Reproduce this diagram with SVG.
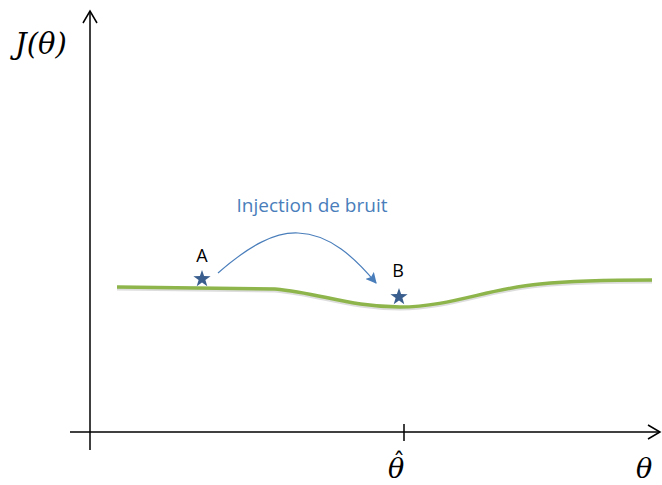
<svg xmlns="http://www.w3.org/2000/svg" width="662" height="485" viewBox="0 0 662 485">
<defs>
<style>
.ax{stroke:#000;stroke-width:1.5;fill:none}
.math{font-family:"DejaVu Serif","Liberation Serif",serif;font-style:italic;font-size:27px;fill:#000}
.lbl{font-family:"Open Sans","Liberation Sans",Arial,sans-serif;font-size:18px;fill:#000}
.star{fill:#3a5f8f}
</style>
<marker id="ah" viewBox="0 0 10 10" refX="9" refY="5" markerWidth="11" markerHeight="11" markerUnits="userSpaceOnUse" orient="auto">
<path d="M0,0 L10,5 L0,10 L2,5 z" fill="#4a7ebb"/>
</marker>
<path id="st" d="M0,-9 L2.1,-2.9 L8.6,-2.8 L3.4,1.1 L5.3,7.3 L0,3.6 L-5.3,7.3 L-3.4,1.1 L-8.6,-2.8 L-2.1,-2.9 z"/>
</defs>
<rect width="662" height="485" fill="#fff"/>
<g id="axes">
<line class="ax" x1="90" y1="450" x2="90" y2="12"/>
<polyline class="ax" points="83,23 90,11 97,23"/>
<line class="ax" x1="70" y1="432" x2="659" y2="432"/>
<polyline class="ax" points="648,425 660,432 648,439"/>
<line class="ax" x1="404" y1="424" x2="404" y2="441"/>
</g>
<g id="labels">
<text class="math" x="15" y="54" style="font-size:29px">J(θ)</text>
<text class="math" x="388" y="478">θ<tspan x="393" y="470" style="font-style:normal;font-size:24px">ˆ</tspan></text>
<text class="math" x="636" y="478">θ</text>
</g>
<g id="curve">
<path d="M117,289 L275,291 C320,295 350,309 400,309 C450,309 490,290 540,286 C580,282 620,282 652,282" stroke="#bbb" stroke-width="3" fill="none" opacity="0.5"/>
<path d="M117,287 L275,289 C320,293 350,307 400,307 C450,307 490,288 540,284 C580,280 620,280 652,280" stroke="#8db54b" stroke-width="3.5" fill="none"/>
</g>
<g id="nodeA">
<use href="#st" class="star" x="202" y="279"/>
<text class="lbl" x="202" y="262" text-anchor="middle">A</text>
</g>
<g id="nodeB">
<use href="#st" class="star" x="399" y="297"/>
<text class="lbl" x="398" y="277" text-anchor="middle">B</text>
</g>
<g id="connectors">
<path d="M218,273 C250,245 275,232 298,233 C330,234 355,258 376,283" stroke="#4a7ebb" stroke-width="1.2" fill="none" marker-end="url(#ah)"/>
</g>
<text x="312" y="212" text-anchor="middle" style="font-family:'Open Sans','Liberation Sans',sans-serif;font-size:19px;fill:#4a7ebb">Injection de bruit</text>
</svg>
